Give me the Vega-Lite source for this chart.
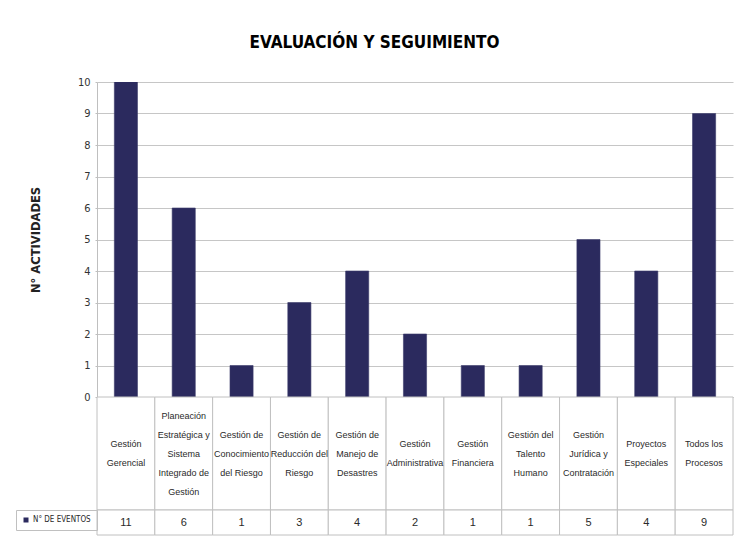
{
  "$schema": "https://vega.github.io/schema/vega-lite/v6.json",
  "padding": {"left": 15, "top": 34, "right": 11, "bottom": 2},
  "background": "white",
  "bounds": "flush",
  "title": {
    "text": "EVALUACIÓN Y SEGUIMIENTO",
    "font": "DejaVu Sans Condensed, Liberation Sans, sans-serif",
    "fontSize": 17,
    "fontWeight": "bold",
    "color": "#000000",
    "anchor": "middle",
    "offset": 24
  },
  "data": {
    "values": [
      {"proceso": "Gestión Gerencial", "etiqueta": "Gestión\nGerencial", "lineas": 2, "eventos": 11, "serie": "N° DE EVENTOS"},
      {"proceso": "Planeación Estratégica y Sistema Integrado de Gestión", "etiqueta": "Planeación\nEstratégica y\nSistema\nIntegrado de\nGestión", "lineas": 5, "eventos": 6, "serie": "N° DE EVENTOS"},
      {"proceso": "Gestión de Conocimiento del Riesgo", "etiqueta": "Gestión de\nConocimiento\ndel Riesgo", "lineas": 3, "eventos": 1, "serie": "N° DE EVENTOS"},
      {"proceso": "Gestión de Reducción del Riesgo", "etiqueta": "Gestión de\nReducción del\nRiesgo", "lineas": 3, "eventos": 3, "serie": "N° DE EVENTOS"},
      {"proceso": "Gestión de Manejo de Desastres", "etiqueta": "Gestión de\nManejo de\nDesastres", "lineas": 3, "eventos": 4, "serie": "N° DE EVENTOS"},
      {"proceso": "Gestión Administrativa", "etiqueta": "Gestión\nAdministrativa", "lineas": 2, "eventos": 2, "serie": "N° DE EVENTOS"},
      {"proceso": "Gestión Financiera", "etiqueta": "Gestión\nFinanciera", "lineas": 2, "eventos": 1, "serie": "N° DE EVENTOS"},
      {"proceso": "Gestión del Talento Humano", "etiqueta": "Gestión del\nTalento\nHumano", "lineas": 3, "eventos": 1, "serie": "N° DE EVENTOS"},
      {"proceso": "Gestión Jurídica y Contratación", "etiqueta": "Gestión\nJurídica y\nContratación", "lineas": 3, "eventos": 5, "serie": "N° DE EVENTOS"},
      {"proceso": "Proyectos Especiales", "etiqueta": "Proyectos\nEspeciales", "lineas": 2, "eventos": 4, "serie": "N° DE EVENTOS"},
      {"proceso": "Todos los Procesos", "etiqueta": "Todos los\nProcesos", "lineas": 2, "eventos": 9, "serie": "N° DE EVENTOS"}
    ]
  },
  "spacing": 0,
  "vconcat": [
    {
      "width": 636,
      "height": 315,
      "mark": {"type": "bar", "color": "#2B2A5E", "clip": true, "stroke": "#3a3a6a", "strokeWidth": 0.6},
      "encoding": {
        "x": {
          "field": "proceso", "type": "nominal", "sort": null,
          "scale": {"paddingInner": 0.6, "paddingOuter": 0.3},
          "axis": {"labels": false, "ticks": false, "title": null, "domainColor": "#bfbfbf", "domainWidth": 1}
        },
        "y": {
          "field": "eventos", "type": "quantitative",
          "scale": {"domain": [0, 10], "nice": false},
          "axis": {
            "values": [0, 1, 2, 3, 4, 5, 6, 7, 8, 9, 10],
            "title": "N° ACTIVIDADES",
            "titleFont": "DejaVu Sans, sans-serif",
            "titleFontSize": 11.5,
            "titleFontWeight": "bold",
            "titleColor": "#222222",
            "titlePadding": 36,
            "grid": true,
            "gridColor": "#c6c6c6",
            "gridWidth": 1,
            "domainColor": "#bfbfbf",
            "tickSize": 2,
            "tickColor": "#bfbfbf",
            "labelFont": "DejaVu Sans Condensed, Liberation Sans, sans-serif",
            "labelFontSize": 11,
            "labelColor": "#333333",
            "labelPadding": 5
          }
        }
      }
    },
    {
      "width": 636,
      "height": 113,
      "layer": [
        {
          "mark": {"type": "rect", "fill": "white", "stroke": "#c0c0c0", "strokeWidth": 1},
          "encoding": {
            "x": {"field": "proceso", "type": "nominal", "sort": null, "scale": {"paddingInner": 0, "paddingOuter": 0}, "axis": null}
          }
        },
        {
          "mark": {"type": "text", "lineBreak": "\n", "font": "Liberation Sans, Arial, sans-serif", "fontSize": 9, "lineHeight": 19, "color": "#2a2a2a", "align": "center", "baseline": "middle"},
          "encoding": {
            "x": {"field": "proceso", "type": "nominal", "sort": null, "axis": null},
            "y": {"field": "lineas", "type": "quantitative", "scale": {"domain": [1, 5], "range": [56.5, 18.5]}, "axis": null},
            "text": {"field": "etiqueta", "type": "nominal"}
          }
        }
      ]
    },
    {
      "width": 636,
      "height": 25,
      "layer": [
        {
          "mark": {"type": "rect", "fill": "white", "stroke": "#c0c0c0", "strokeWidth": 1},
          "encoding": {
            "x": {"field": "proceso", "type": "nominal", "sort": null, "scale": {"paddingInner": 0, "paddingOuter": 0}, "axis": null}
          }
        },
        {
          "mark": {"type": "text", "font": "Liberation Sans, Arial, sans-serif", "fontSize": 11, "color": "#2a2a2a", "align": "center", "baseline": "middle"},
          "encoding": {
            "x": {"field": "proceso", "type": "nominal", "sort": null, "axis": null},
            "text": {"field": "eventos", "type": "quantitative"}
          }
        },
        {
          "mark": {"type": "point", "shape": "square", "filled": true, "opacity": 0},
          "encoding": {
            "color": {
              "field": "serie", "type": "nominal",
              "scale": {"range": ["#2B2A5E"]},
              "legend": {
                "orient": "left",
                "title": null,
                "offset": 0,
                "symbolType": "square",
                "symbolSize": 25,
                "symbolOpacity": 1,
                "symbolStrokeWidth": 0,
                "strokeColor": "#c0c0c0",
                "padding": 6,
                "labelOffset": 3,
                "labelFont": "DejaVu Sans Condensed, Liberation Sans, sans-serif",
                "labelFontSize": 8,
                "labelColor": "#2a2a2a"
              }
            }
          }
        }
      ]
    }
  ],
  "resolve": {"scale": {"x": "independent", "y": "independent", "color": "independent"}, "legend": {"color": "independent"}},
  "config": {
    "view": {"stroke": null}
  }
}
